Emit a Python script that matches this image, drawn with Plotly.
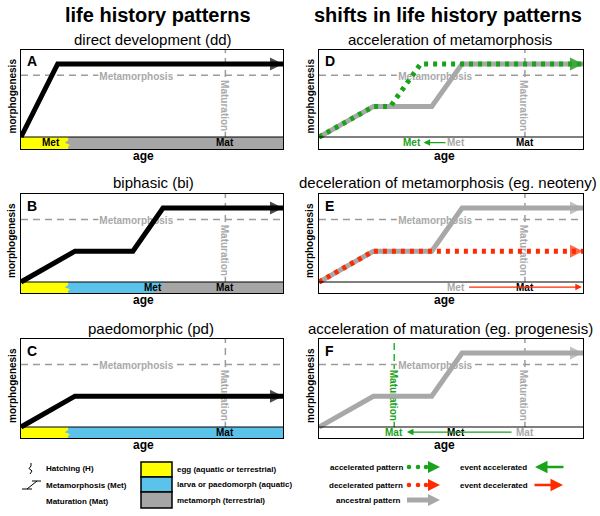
import plotly.graph_objects as go

W, H = 600, 516
FONT = "Liberation Sans, Arial, Helvetica, sans-serif"

# ---------------- data (age 0-100, morphogenesis 0-100) ----------------
met_level = 71          # morphogenesis level defining metamorphosis
mat_age = 78            # ancestral age at maturation
mat_age_acc = 28.5      # accelerated maturation (progenesis)
hatch_age = 18          # hatching
met_age_bi = 52         # metamorphosis age in biphasic pattern
met_label_pos = 44      # position of the "Metamorphosis" label along the age axis
mat_label_pos = 36      # position of the "Maturation" label along morphogenesis

dd_age = [0, 14, 100]
dd_morph = [0, 84, 84]
bi_age = [0, 20.6, 42.7, 54.2, 100]
bi_morph = [0, 35, 35, 84, 84]
pd_age = [0, 20.6, 100]
pd_morph = [0, 35, 35]
acc_age = [0, 20.6, 27, 38.5, 100]
acc_morph = [0, 35, 35, 84, 84]
dec_age = [0, 20.6, 100]
dec_morph = [0, 35, 35]

panel_letters = ["A", "B", "C", "D", "E", "F"]
panel_titles = ["direct development (dd)", "biphasic (bi)", "paedomorphic (pd)",
                "acceleration of metamorphosis",
                "deceleration of metamorphosis (eg. neoteny)",
                "acceleration of maturation (eg. progenesis)"]
column_titles = ["life history patterns", "shifts in life history patterns"]

BLACK = "#000000"
ANC = "#a8a8a8"
GREEN = "#19a319"
GREEN_L = "#22bb22"
RED = "#ff2a00"
LBLGRAY = "#a9a9a9"
DASHGRAY = "#9c9c9c"
YELLOW = "#ffff00"
BLUE = "#5bc3ea"
SGRAY = "#a6a6a6"

# strip event labels: (text, age, colour)
strip_labels = [
    [("Met", 11.6, BLACK), ("Mat", mat_age, BLACK)],
    [("Met", 50.5, BLACK), ("Mat", mat_age, BLACK)],
    [("Mat", mat_age, BLACK)],
    [("Met", 35.3, GREEN), ("Met", 52, LBLGRAY), ("Mat", mat_age, BLACK)],
    [("Met", 52, LBLGRAY), ("Mat", mat_age, BLACK)],
    [("Mat", mat_age_acc, GREEN), ("Met", 52, BLACK), ("Mat", mat_age, LBLGRAY)],
]
# strip arrows: (tail age, head age, colour)
strip_arrows = [None, None, None, (48.5, 39.6, GREEN), (56.3, 99.6, RED), (73.5, 33.3, GREEN)]

# ---------------- layout geometry (pixels) ----------------
cols_x = [(21, 283), (319, 583)]
rows_y = [(50, 137, 149), (194, 282, 293), (339, 427, 438)]
title_cx = [153, 153, 151, 450, 448, 450]


def px(x):
    return x / W


def py(y):
    return 1 - y / H


fig = go.Figure()
shapes = []
annotations = []


def ax_names(i):
    return ("x" if i == 1 else f"x{i}"), ("y" if i == 1 else f"y{i}")


def curve(ages, morphs, color, width, dash, i, head=13):
    xr, yr = ax_names(i)
    n = len(ages)
    return go.Scatter(
        x=ages, y=morphs, xaxis=xr, yaxis=yr, mode="lines+markers",
        line=dict(color=color, width=width, dash=dash),
        marker=dict(symbol=["circle"] * (n - 1) + ["arrow-right"],
                    size=[0] * (n - 1) + [head], color=color, line=dict(width=0)),
        hoverinfo="skip", showlegend=False, cliponaxis=False)


def fill_poly(xs, ys, color, i):
    xr, yr = ax_names(i)
    return go.Scatter(x=xs, y=ys, xaxis=xr, yaxis=yr, mode="lines", fill="toself",
                      fillcolor=color, line=dict(width=0, color=color),
                      hoverinfo="skip", showlegend=False)


def zig(h, s):
    # hatching zig-zag boundary from top (0) to bottom (-s)
    xs = [h, h, h - 1.3, h + 0.7, h, h]
    ys = [0, -0.28 * s, -0.48 * s, -0.66 * s, -0.8 * s, -s]
    return xs, ys


for i in range(1, 7):
    col = (i - 1) // 3
    row = (i - 1) % 3
    x0, x1 = cols_x[col]
    top, stop, bot = rows_y[row]
    s = 100 * (bot - stop) / (stop - top)
    xr, yr = ax_names(i)
    xa = "xaxis" if i == 1 else f"xaxis{i}"
    ya = "yaxis" if i == 1 else f"yaxis{i}"
    common = dict(showgrid=False, zeroline=False, showticklabels=False, ticks="",
                  showline=True, mirror=True, linecolor=BLACK, linewidth=1, fixedrange=True)
    fig.layout[xa] = dict(domain=[px(x0), px(x1)], range=[0, 100], anchor=yr, **common)
    fig.layout[ya] = dict(domain=[py(bot), py(top)], range=[-s, 100], anchor=xr, **common)

    # ---- strips (life stages) ----
    zx, zy = zig(hatch_age, s)
    if i == 1:
        fig.add_trace(fill_poly([0, 100, 100, 0], [0, 0, -s, -s], SGRAY, i))
    if i == 2:
        fig.add_trace(fill_poly([0, 100, 100, 0], [0, 0, -s, -s], SGRAY, i))
        fig.add_trace(fill_poly([0, met_age_bi + 2.5, met_age_bi - 1.5, 0],
                                [0, 0, -s, -s], BLUE, i))
    if i == 3:
        fig.add_trace(fill_poly([0, 100, 100, 0], [0, 0, -s, -s], BLUE, i))
    if i in (1, 2, 3):
        fig.add_trace(fill_poly([0] + zx + [0], [0] + zy + [-s], YELLOW, i))

    # ---- reference lines with labels ----
    lblfont = dict(family=FONT, size=10, color=LBLGRAY, weight="bold")
    shapes.append(dict(type="line", xref=xr, yref=yr, x0=0, x1=100, y0=met_level, y1=met_level,
                       line=dict(color=DASHGRAY, width=1.5, dash="7px,5px"), layer="below"))
    shapes.append(dict(type="line", xref=xr, yref=yr, x0=mat_age, x1=mat_age, y0=0, y1=100,
                       line=dict(color=DASHGRAY, width=1.5, dash="7px,5px"), layer="below"))
    shapes.append(dict(type="rect", xref=xr, yref=yr, x0=met_label_pos - 14.5, x1=met_label_pos + 14.5,
                       y0=met_level - 5, y1=met_level + 5, fillcolor="white", line=dict(width=0),
                       layer="below",
                       label=dict(text="Metamorphosis", textposition="middle center",
                                  font=lblfont, padding=0)))
    shapes.append(dict(type="rect", xref=xr, yref=yr, x0=mat_age - 2.4, x1=mat_age + 2.4,
                       y0=mat_label_pos - 30, y1=mat_label_pos + 30, fillcolor="white",
                       line=dict(width=0), layer="below",
                       label=dict(text="Maturation", textposition="middle center", textangle=90,
                                  font=lblfont, padding=0)))
    if i == 6:
        shapes.append(dict(type="line", xref=xr, yref=yr, x0=mat_age_acc, x1=mat_age_acc, y0=0, y1=100,
                           line=dict(color=GREEN_L, width=1.5, dash="7px,4px"), layer="below"))
        shapes.append(dict(type="rect", xref=xr, yref=yr, x0=mat_age_acc - 2.4, x1=mat_age_acc + 2.4,
                           y0=mat_label_pos - 30, y1=mat_label_pos + 30, fillcolor="white",
                           line=dict(width=0), layer="below",
                           label=dict(text="Maturation", textposition="middle center", textangle=90,
                                      font=dict(family=FONT, size=10, color=GREEN, weight="bold"),
                                      padding=0)))
    # strip separator
    shapes.append(dict(type="line", xref=xr, yref=yr, x0=0, x1=100, y0=0, y1=0,
                       line=dict(color=BLACK, width=1), layer="above"))

    # ---- curves ----
    if i == 1:
        fig.add_trace(curve(dd_age, dd_morph, BLACK, 5, "solid", i))
    elif i == 2:
        fig.add_trace(curve(bi_age, bi_morph, BLACK, 5, "solid", i))
    elif i == 3:
        fig.add_trace(curve(pd_age, pd_morph, BLACK, 5, "solid", i))
    elif i == 4:
        fig.add_trace(curve(bi_age, bi_morph, ANC, 5, "solid", i))
        fig.add_trace(curve(acc_age, acc_morph, GREEN, 5, "4px,5px", i))
    elif i == 5:
        fig.add_trace(curve(bi_age, bi_morph, ANC, 5, "solid", i))
        fig.add_trace(curve(dec_age, dec_morph, RED, 5, "4px,5px", i))
    else:
        fig.add_trace(curve(bi_age, bi_morph, ANC, 5, "solid", i))

    # ---- strip labels & arrows ----
    for txt, a, c in strip_labels[i - 1]:
        annotations.append(dict(xref=xr, yref=yr, x=a, y=-s / 2, text=f"<b>{txt}</b>", showarrow=False,
                                font=dict(family=FONT, size=10, color=c), xanchor="center", yanchor="middle"))
    if strip_arrows[i - 1] is not None:
        tail, head, c = strip_arrows[i - 1]
        annotations.append(dict(xref=xr, yref=yr, x=head, y=-s / 2 + 0.5, ax=tail, ay=-s / 2 + 0.5,
                                axref=xr, ayref=yr, text="", showarrow=True, arrowhead=2,
                                arrowsize=1.1, arrowwidth=1.2, arrowcolor=c, standoff=0))

    # ---- text around panel ----
    cx = (x0 + x1) / 2
    annotations.append(dict(xref="paper", yref="paper", x=px(title_cx[i - 1]), y=py(top - 11),
                            text=panel_titles[i - 1], showarrow=False,
                            font=dict(family=FONT, size=15, color=BLACK), xanchor="center", yanchor="middle"))
    annotations.append(dict(xref="paper", yref="paper", x=px(x0 + 4), y=py(top + 11.5),
                            text=f"<b>{panel_letters[i - 1]}</b>", showarrow=False,
                            font=dict(family=FONT, size=14, color=BLACK), xanchor="left", yanchor="middle"))
    annotations.append(dict(xref="paper", yref="paper", x=px(cx - 9 + col * 2), y=py(bot + 7),
                            text="<b>age</b>", showarrow=False,
                            font=dict(family=FONT, size=12, color=BLACK), xanchor="center", yanchor="middle"))
    annotations.append(dict(xref="paper", yref="paper", x=px(x0 - 9), y=py((top + stop) / 2 + 3),
                            text="<b>morphogenesis</b>", showarrow=False, textangle=-90,
                            font=dict(family=FONT, size=10, color=BLACK), xanchor="center", yanchor="middle"))

# column titles
for cx, t in zip([158, 448], column_titles):
    annotations.append(dict(xref="paper", yref="paper", x=px(cx), y=py(15), text=f"<b>{t}</b>",
                            showarrow=False, font=dict(family=FONT, size=20, color=BLACK),
                            xanchor="center", yanchor="middle"))

# ---------------- legend (left) ----------------
LF = dict(family=FONT, size=8, color=BLACK)
shapes.append(dict(type="path", xref="paper", yref="paper",
                   path=f"M{px(31)},{py(463)} L{px(31)},{py(466)} L{px(29)},{py(468.5)} "
                        f"L{px(32)},{py(471)} L{px(30)},{py(474)}",
                   line=dict(color=BLACK, width=1)))
shapes.append(dict(type="path", xref="paper", yref="paper",
                   path=f"M{px(22)},{py(489)} L{px(32)},{py(489)} M{px(27)},{py(489)} L{px(37)},{py(481)} "
                        f"M{px(32)},{py(481)} L{px(41)},{py(481)}",
                   line=dict(color=BLACK, width=1)))
for t, yy in [("Hatching (H)", 468), ("Metamorphosis (Met)", 485), ("Maturation (Mat)", 501)]:
    annotations.append(dict(xref="paper", yref="paper", x=px(44), y=py(yy), text=f"<b>{t}</b>",
                            showarrow=False, font=LF, xanchor="left", yanchor="middle"))
for (y0, y1, c, t) in [(462, 477, YELLOW, "egg (aquatic or terrestrial)"),
                       (477, 492, BLUE, "larva or paedomorph (aquatic)"),
                       (492, 508, SGRAY, "metamorph (terrestrial)")]:
    shapes.append(dict(type="rect", xref="paper", yref="paper", x0=px(141), x1=px(172), y0=py(y1), y1=py(y0),
                       fillcolor=c, line=dict(color=BLACK, width=1.5)))
    annotations.append(dict(xref="paper", yref="paper", x=px(175), y=py((y0 + y1) / 2), text=f"<b>{t}</b>",
                            showarrow=False, font=LF, xanchor="left", yanchor="middle"))

# ---------------- legend (right) ----------------
for t, yy, c in [("accelerated pattern", 467, GREEN), ("decelerated pattern", 485, RED)]:
    annotations.append(dict(xref="paper", yref="paper", x=px(405), y=py(yy), text=f"<b>{t}</b>",
                            showarrow=False, font=LF, xanchor="right", yanchor="middle"))
    for dx in (409, 418, 426):
        shapes.append(dict(type="circle", xref="paper", yref="paper", x0=px(dx - 2.3), x1=px(dx + 2.3),
                           y0=py(yy + 2.3), y1=py(yy - 2.3), fillcolor=c, line=dict(width=0)))
    shapes.append(dict(type="path", xref="paper", yref="paper",
                       path=f"M{px(428)},{py(yy - 6)} L{px(440)},{py(yy)} L{px(428)},{py(yy + 6)} Z",
                       fillcolor=c, line=dict(width=0)))
annotations.append(dict(xref="paper", yref="paper", x=px(403), y=py(500), text="<b>ancestral pattern</b>",
                        showarrow=False, font=LF, xanchor="right", yanchor="middle"))
shapes.append(dict(type="line", xref="paper", yref="paper", x0=px(407), x1=px(429), y0=py(500), y1=py(500),
                   line=dict(color=ANC, width=5)))
shapes.append(dict(type="path", xref="paper", yref="paper",
                   path=f"M{px(428)},{py(494)} L{px(440)},{py(500)} L{px(428)},{py(506)} Z",
                   fillcolor=ANC, line=dict(width=0)))
for t, yy in [("event accelerated", 467), ("event decelerated", 485)]:
    annotations.append(dict(xref="paper", yref="paper", x=px(458), y=py(yy), text=f"<b>{t}</b>",
                            showarrow=False, font=LF, xanchor="left", yanchor="middle"))
annotations.append(dict(xref="paper", yref="paper", x=px(535), y=py(467), ax=30, ay=0, axref="pixel",
                        ayref="pixel", text="", showarrow=True, arrowhead=2, arrowsize=1,
                        arrowwidth=2.5, arrowcolor=GREEN, standoff=0))
annotations.append(dict(xref="paper", yref="paper", x=px(563), y=py(485), ax=-30, ay=0, axref="pixel",
                        ayref="pixel", text="", showarrow=True, arrowhead=2, arrowsize=1,
                        arrowwidth=2.5, arrowcolor=RED, standoff=0))

fig.update_layout(width=W, height=H, margin=dict(l=0, r=0, t=0, b=0), paper_bgcolor="white",
                  plot_bgcolor="white", showlegend=False, shapes=shapes, annotations=annotations,
                  font=dict(family=FONT))
fig.write_html("out.html", config={"displayModeBar": False},
               post_script="document.body.style.margin='0px';")
